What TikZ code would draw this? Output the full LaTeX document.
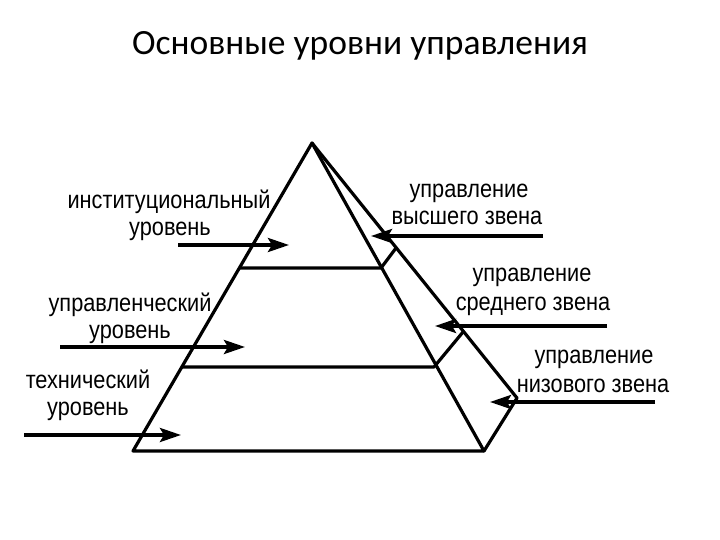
\documentclass[tikz,border=0pt]{standalone}
\usepackage{fontspec}
\setmainfont{Liberation Sans}
\newfontfamily\titlefont{Carlito}
\newfontfamily\lblfont{Liberation Sans}[FakeStretch=0.87]
\usetikzlibrary{arrows.meta}
\begin{document}
\begin{tikzpicture}[x=1pt,y=-1pt,
  edge/.style={line width=3.2pt,line join=round,line cap=round},
  arr/.style={line width=3.6pt,-{Stealth[length=21pt,width=14pt,inset=4pt]}},
  lbl/.style={anchor=base,inner sep=0pt,font=\lblfont\fontsize{25}{28}\selectfont}]
\useasboundingbox (0,0) rectangle (720,540);
% title
\node[anchor=base,inner sep=0pt,font=\titlefont\fontsize{35.5}{40}\selectfont] (title) at (360,55) {Основные уровни управления};
% pyramid
\coordinate (A) at (312,143);
\coordinate (BL) at (133,451);
\coordinate (BR) at (484,451);
\coordinate (BB) at (517,398);
\coordinate (L1l) at (240,268);
\coordinate (L1r) at (381,268);
\coordinate (L1b) at (396,248);
\coordinate (L2l) at (182,367);
\coordinate (L2r) at (434,367);
\coordinate (L2b) at (463,332);
\draw[edge] (A) -- (BL) -- (BR) -- cycle;
\draw[edge] (A) -- (BB) -- (BR);
\draw[edge] (L1l) -- (L1r) -- (L1b);
\draw[edge] (L2l) -- (L2r) -- (L2b);
% left labels
\node[lbl] (t1a) at (169,208) {институциональный};
\node[lbl] (t1b) at (170,236) {уровень};
\node[lbl] (t2a) at (130,311) {управленческий};
\node[lbl] (t2b) at (130,338) {уровень};
\node[lbl] (t3a) at (88,388) {технический};
\node[lbl] (t3b) at (88,415) {уровень};
% right labels
\node[lbl] (r1a) at (469,197) {управление};
\node[lbl] (r1b) at (467,225) {высшего звена};
\node[lbl] (r2a) at (532,281) {управление};
\node[lbl] (r2b) at (533,310) {среднего звена};
\node[lbl] (r3a) at (594,363) {управление};
\node[lbl] (r3b) at (593,392) {низового звена};
% arrows
\coordinate (a1s) at (178,245); \coordinate (a1e) at (289,245);
\coordinate (a2s) at (60,347);  \coordinate (a2e) at (245,347);
\coordinate (a3s) at (24,435);  \coordinate (a3e) at (181,435);
\coordinate (b1s) at (543,236); \coordinate (b1e) at (371,236);
\coordinate (b2s) at (607,326); \coordinate (b2e) at (435,326);
\coordinate (b3s) at (655,402); \coordinate (b3e) at (490,402);
\draw[arr] (a1s) -- (a1e);
\draw[arr] (a2s) -- (a2e);
\draw[arr] (a3s) -- (a3e);
\draw[arr] (b1s) -- (b1e);
\draw[arr] (b2s) -- (b2e);
\draw[arr] (b3s) -- (b3e);
\end{tikzpicture}
\end{document}
